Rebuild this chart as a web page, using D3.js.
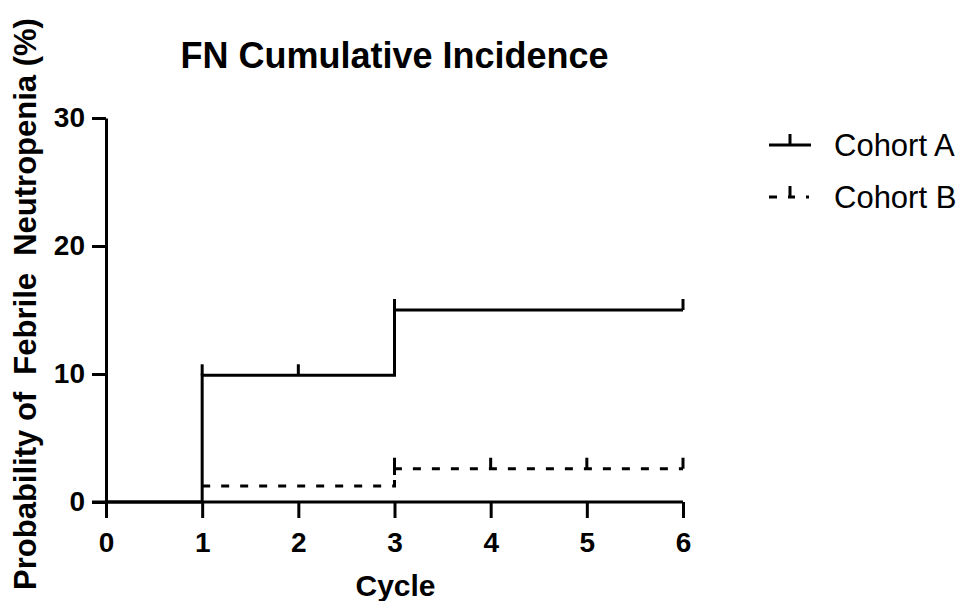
<!DOCTYPE html>
<html>
<head>
<meta charset="utf-8">
<script src="https://cdn.jsdelivr.net/npm/d3@7"></script>
<style>
  body { margin: 0; background: #fff; }
  text { font-family: "Liberation Sans", Arial, sans-serif; fill: #000; }
</style>
</head>
<body>
<script>
// chart data
const cycleTicks = [0, 1, 2, 3, 4, 5, 6];
const probTicks = [0, 10, 20, 30];

const cohortATimes = [0, 1, 3, 6];
const cohortAValues = [0, 9.9, 15, 15];
const cohortACensored = [1, 2, 3, 6];

const cohortBTimes = [0, 1, 3, 6];
const cohortBValues = [0, 1.25, 2.6, 2.6];
const cohortBCensored = [3, 4, 5, 6];

const seriesNames = ['Cohort A', 'Cohort B'];

const width = 958, height = 601;
const margin = { top: 118, left: 106, right: 275, bottom: 99 };

const svg = d3.select('body').append('svg')
  .attr('width', width)
  .attr('height', height);

const x = d3.scaleLinear().domain([0, 6]).range([margin.left, width - margin.right]);
const y = d3.scaleLinear().domain([0, 30]).range([height - margin.bottom, margin.top]);

// axes
const xAxis = svg.append('g')
  .attr('transform', `translate(0,${y(0)})`)
  .call(d3.axisBottom(x).tickValues(cycleTicks).tickFormat(d3.format('d'))
    .tickSize(16).tickPadding(14).tickSizeOuter(0));
const yAxis = svg.append('g')
  .attr('transform', `translate(${x(0)},0)`)
  .call(d3.axisLeft(y).tickValues(probTicks).tickFormat(d3.format('d'))
    .tickSize(14).tickPadding(7).tickSizeOuter(0));

[xAxis, yAxis].forEach(g => {
  g.select('.domain').attr('stroke', '#000').attr('stroke-width', 3);
  g.selectAll('.tick line').attr('stroke', '#000').attr('stroke-width', 3);
  g.selectAll('.tick text')
    .style('font-size', '28px')
    .style('font-weight', 'bold')
    .attr('fill', '#000');
});
// x axis line starts from y tick end
xAxis.select('.domain').attr('d', `M${x(0) - 14},0H${x(6)}`);

// step lines
const stepLine = d3.line()
  .x(d => x(d[0]))
  .y(d => y(d[1]))
  .curve(d3.curveStepAfter);

function valueAt(times, values, t) {
  let v = values[0];
  times.forEach((tt, i) => { if (tt <= t) v = values[i]; });
  return v;
}

const tickLen = 11;

// Cohort B (dashed)
svg.append('path')
  .datum(d3.zip(cohortBTimes.slice(1), cohortBValues.slice(1)))
  .attr('d', stepLine)
  .attr('fill', 'none')
  .attr('stroke', '#000')
  .attr('stroke-width', 3)
  .attr('stroke-dasharray', '8,11');

svg.selectAll('.censorB')
  .data(cohortBCensored)
  .enter().append('line')
  .attr('x1', d => x(d)).attr('x2', d => x(d))
  .attr('y1', d => y(valueAt(cohortBTimes, cohortBValues, d)))
  .attr('y2', d => y(valueAt(cohortBTimes, cohortBValues, d)) - tickLen)
  .attr('stroke', '#000').attr('stroke-width', 3);

// vertical step at 3 for B
svg.append('line')
  .attr('x1', x(3)).attr('x2', x(3))
  .attr('y1', y(cohortBValues[1]))
  .attr('y2', y(cohortBValues[2]))
  .attr('stroke', '#000').attr('stroke-width', 3)
  .attr('stroke-dasharray', '6,5');

// Cohort A (solid)
svg.append('path')
  .datum(d3.zip(cohortATimes, cohortAValues))
  .attr('d', stepLine)
  .attr('fill', 'none')
  .attr('stroke', '#000')
  .attr('stroke-width', 3);

svg.selectAll('.censorA')
  .data(cohortACensored)
  .enter().append('line')
  .attr('x1', d => x(d)).attr('x2', d => x(d))
  .attr('y1', d => y(valueAt(cohortATimes, cohortAValues, d)))
  .attr('y2', d => y(valueAt(cohortATimes, cohortAValues, d)) - tickLen)
  .attr('stroke', '#000').attr('stroke-width', 3);

// title
svg.append('text')
  .attr('x', (x(0) + x(6)) / 2)
  .attr('y', 68)
  .attr('text-anchor', 'middle')
  .style('font-size', '36px')
  .style('font-weight', 'bold')
  .text('FN Cumulative Incidence');

// axis titles
svg.append('text')
  .attr('x', (x(0) + x(6)) / 2 + 1)
  .attr('y', 596)
  .attr('text-anchor', 'middle')
  .style('font-size', '30px')
  .style('font-weight', 'bold')
  .text('Cycle');

svg.append('text')
  .attr('transform', 'translate(36,304) rotate(-90)')
  .attr('text-anchor', 'middle')
  .style('font-size', '31px')
  .style('font-weight', 'bold')
  .style('white-space', 'pre')
  .text('Probability of  Febrile  Neutropenia (%)');

// legend
const legend = svg.append('g');
const legendY = [145, 197];

legend.append('line')
  .attr('x1', 769).attr('x2', 811)
  .attr('y1', legendY[0]).attr('y2', legendY[0])
  .attr('stroke', '#000').attr('stroke-width', 3);
legend.append('line')
  .attr('x1', 790).attr('x2', 790)
  .attr('y1', legendY[0]).attr('y2', legendY[0] - tickLen)
  .attr('stroke', '#000').attr('stroke-width', 3);

legend.append('line')
  .attr('x1', 769).attr('x2', 811)
  .attr('y1', legendY[1]).attr('y2', legendY[1])
  .attr('stroke', '#000').attr('stroke-width', 3)
  .attr('stroke-dasharray', '8,11,7,11,3,20');
legend.append('line')
  .attr('x1', 790).attr('x2', 790)
  .attr('y1', legendY[1]).attr('y2', legendY[1] - tickLen)
  .attr('stroke', '#000').attr('stroke-width', 3);

legend.selectAll('.legtext')
  .data(seriesNames)
  .enter().append('text')
  .attr('x', 834)
  .attr('y', (d, i) => legendY[i] + 11)
  .style('font-size', '31px')
  .text(d => d);
</script>
</body>
</html>
